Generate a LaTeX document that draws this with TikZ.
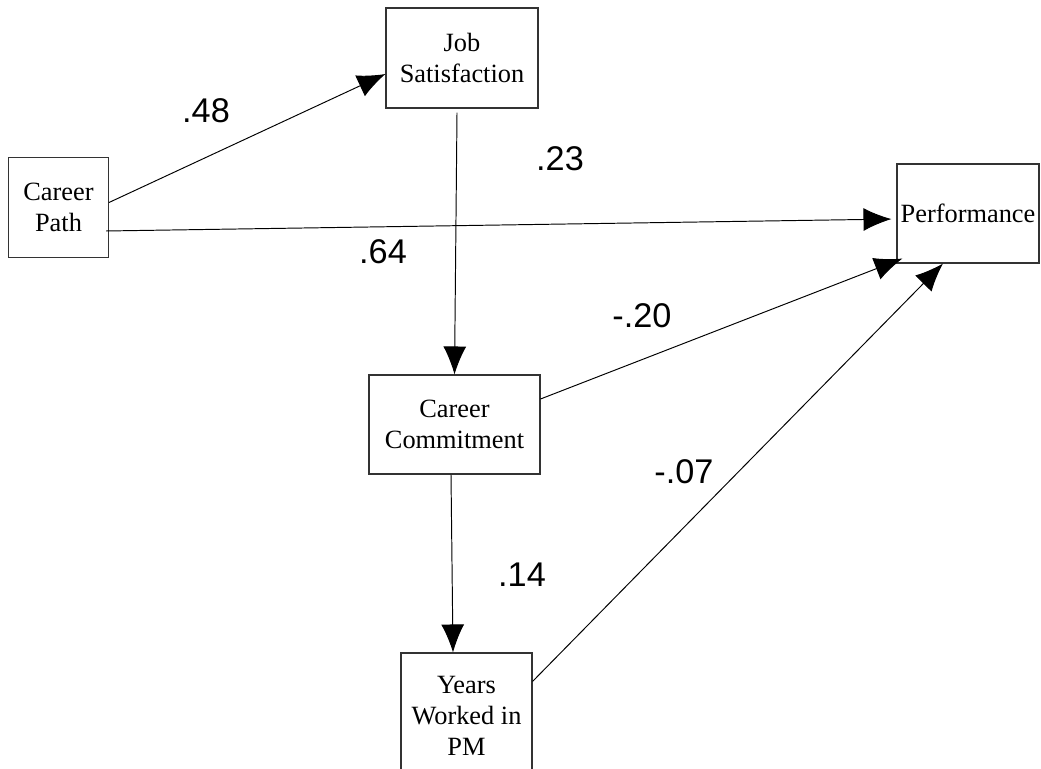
\documentclass[tikz,border=0pt]{standalone}
\usepackage{fontspec}
\setmainfont{Liberation Serif}
\newfontfamily\coeffont{Liberation Sans}
\usepackage{tikz}
\usetikzlibrary{arrows.meta}

\begin{document}
\begin{tikzpicture}[
	box/.style = {draw = black!80, line width = 0.6pt, align = center, inner sep = 0pt, font = \fontsize{15}{17.6}\selectfont},
	path/.style = {black, line width = 0.55pt, -{Latex[length = 0.56cm, width = 0.46cm]}},
	coef/.style = {inner sep = 0pt, font = \coeffont\fontsize{19.5}{22}\selectfont}]
	\path[use as bounding box, clip] (0, 0) rectangle (20.82, 15.36);
	\node[box, minimum width = 2cm, minimum height = 2cm] (cpath) at (1.17, 11.21) {Career\\Path};
	\node[box, minimum width = 3.04cm, minimum height = 2cm] (jobsat) at (9.24, 14.2) {Job\\Satisfaction};
	\node[box, minimum width = 2.84cm, minimum height = 1.98cm] (perf) at (19.36, 11.09) {Performance};
	\node[box, minimum width = 3.42cm, minimum height = 1.98cm] (ccommit) at (9.09, 6.87) {Career\\Commitment};
	\node[box, minimum width = 2.62cm, minimum height = 2.5cm] (years) at (9.33, 1.05) {Years\\Worked in\\PM};
	\draw[path] ([yshift = 0.1cm]cpath.east) -- ([yshift = -0.32cm]jobsat.west);
	\draw[path, shorten > = 0.1cm] ([xshift = -0.06cm, yshift = -0.47cm]cpath.east) -- ([yshift = -0.11cm]perf.west);
	\draw[path] ([xshift = -0.1cm, yshift = -0.08cm]jobsat.south) -- (ccommit.north);
	\draw[path] ([yshift = 0.51cm]ccommit.east) -- ([xshift = 0.12cm, yshift = 0.1cm]perf.south west);
	\draw[path] ([xshift = -0.07cm]ccommit.south) -- ([xshift = -0.27cm]years.north);
	\draw[path] ([yshift = -0.58cm]years.north east) -- ([xshift = -0.5cm]perf.south);
	\node[coef] (c48) at (4.12, 13.14) {.48};
	\node[coef] (c23) at (11.2, 12.18) {.23};
	\node[coef] (c64) at (7.66, 10.32) {.64};
	\node[coef] (c20) at (12.84, 9.04) {-.20};
	\node[coef] (c07) at (13.68, 5.92) {-.07};
	\node[coef] (c14) at (10.44, 3.86) {.14};
\end{tikzpicture}
\end{document}
